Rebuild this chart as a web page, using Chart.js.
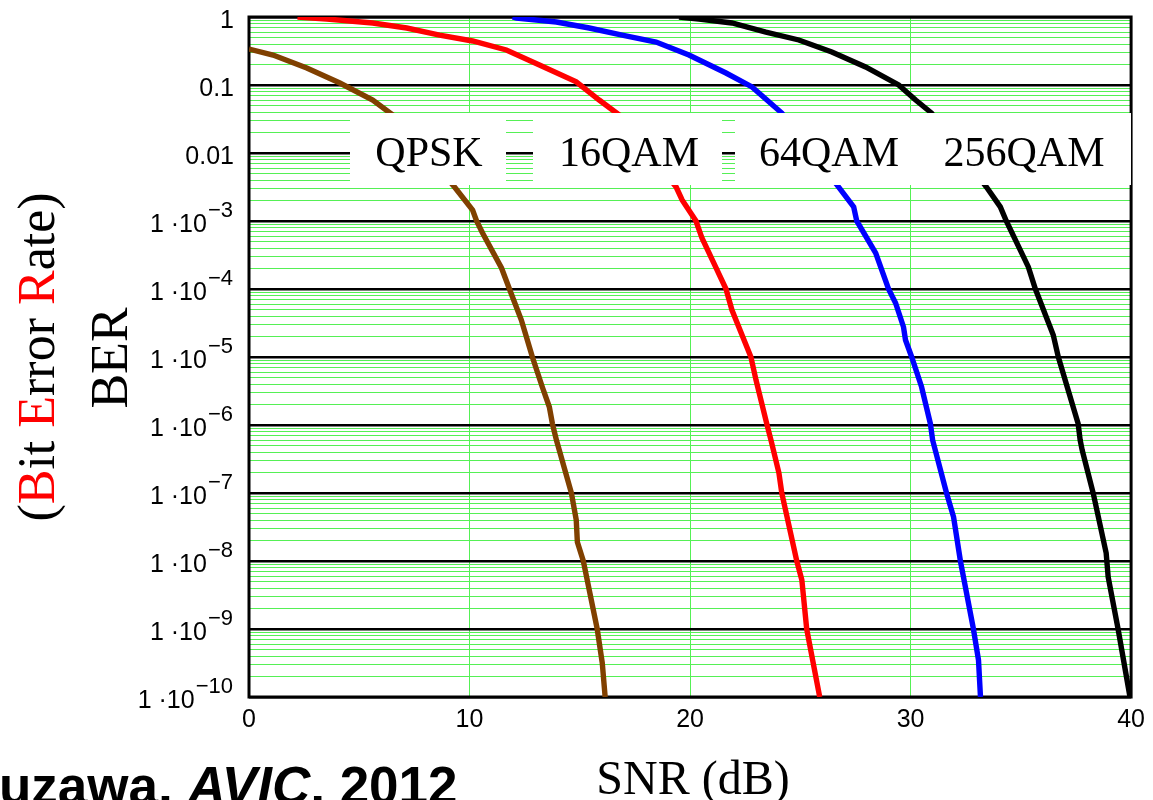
<!DOCTYPE html>
<html>
<head>
<meta charset="utf-8">
<script src="https://cdn.jsdelivr.net/npm/chart.js@4.4.1/dist/chart.umd.min.js"></script>
<style>
html,body{margin:0;padding:0;background:#fff;overflow:hidden;}
canvas{display:block;}
</style>
</head>
<body>
<canvas id="c" width="1153" height="800"></canvas>
<script>
// ---- data ----
const seriesNames = ["QPSK", "16QAM", "64QAM", "256QAM"];
const xTicks = [0, 10, 20, 30, 40];
const yDecades = [0, -1, -2, -3, -4, -5, -6, -7, -8, -9, -10];

const qpskSnr = [0, 1.09, 2.62, 4.12, 5.61, 6.52, 9.32, 10.14, 10.32, 10.59, 11.45, 11.81, 12.35, 12.58, 12.85, 13.30, 13.62, 13.76, 13.94, 14.62, 14.84, 14.89, 15.16, 15.79, 16.02, 16.15];
const qpskBer = [0.338, 0.276, 0.178, 0.107, 0.0601, 0.0362, 3.16e-3, 1.45e-3, 1.0e-3, 6.67e-4, 2.04e-4, 1.0e-4, 3.5e-5, 1.97e-5, 1.0e-5, 3.62e-6, 1.84e-6, 1.04e-6, 6.0e-7, 1.0e-7, 4.0e-8, 1.9e-8, 1.0e-8, 1.0e-9, 3.16e-10, 1.0e-10];

const qam16Snr = [2.2, 3.53, 5.61, 7.15, 8.64, 10.14, 11.67, 13.17, 14.84, 15.88, 16.79, 19.37, 19.64, 20.27, 20.54, 21.18, 21.63, 21.90, 22.76, 22.99, 23.48, 23.67, 24.03, 24.16, 24.84, 25.07, 25.29, 25.88];
const qam16Ber = [1.0, 0.935, 0.816, 0.689, 0.543, 0.444, 0.327, 0.197, 0.111, 0.0601, 0.0362, 3.16e-3, 2.04e-3, 1.0e-3, 5.62e-4, 2.04e-4, 1.0e-4, 4.91e-5, 1.0e-5, 4.59e-6, 1.04e-6, 6.0e-7, 1.97e-7, 1.0e-7, 1.0e-8, 5.26e-9, 1.0e-9, 1.0e-10];

const qam64Snr = [11.95, 12.13, 13.94, 15.43, 16.92, 18.46, 19.95, 21.63, 22.81, 24.16, 26.74, 27.42, 27.56, 28.42, 29.00, 29.32, 29.68, 29.77, 30.05, 30.50, 30.90, 31.00, 31.63, 31.95, 32.26, 32.85, 33.08, 33.17];
const qam64Ber = [1.0, 0.967, 0.844, 0.689, 0.543, 0.429, 0.276, 0.150, 0.0935, 0.0387, 3.16e-3, 1.61e-3, 1.0e-3, 3.38e-4, 1.0e-4, 6.22e-5, 2.76e-5, 1.78e-5, 1.0e-5, 3.62e-6, 1.04e-6, 6.0e-7, 1.0e-7, 4.44e-8, 1.0e-8, 1.0e-9, 3.5e-10, 1.0e-10];

const qam256Snr = [19.5, 20.41, 21.90, 23.44, 24.93, 26.43, 27.96, 29.46, 30.23, 30.95, 33.44, 34.07, 34.34, 35.34, 35.66, 36.47, 36.70, 37.60, 37.69, 37.78, 38.28, 38.87, 38.96, 39.41, 39.95];
const qam256Ber = [1.0, 0.935, 0.816, 0.601, 0.459, 0.306, 0.184, 0.1, 0.0601, 0.0387, 3.16e-3, 1.61e-3, 1.0e-3, 2.11e-4, 1.0e-4, 2.11e-5, 1.0e-5, 1.04e-6, 6.0e-7, 4.29e-7, 1.0e-7, 1.31e-8, 5.82e-9, 1.0e-9, 1.0e-10];

const seriesColors = ["#804000", "#ff0000", "#0000ff", "#000000"];

// ---- build ----
const toPts = (xs, ys) => xs.map((x, i) => ({x: x, y: ys[i]}));
const allX = [qpskSnr, qam16Snr, qam64Snr, qam256Snr];
const allY = [qpskBer, qam16Ber, qam64Ber, qam256Ber];
const datasets = seriesNames.map((n, i) => ({
  label: n,
  data: toPts(allX[i], allY[i]),
  borderColor: seriesColors[i],
  borderWidth: 5.4,
  pointRadius: 0,
  tension: 0,
  fill: false
}));

const GREEN = 'rgb(85,240,85)';
const isMajor = v => Math.abs(Math.log10(v) - Math.round(Math.log10(v))) < 1e-6;

const decor = {
  id: 'decor',
  beforeDatasetsDraw(chart) {
    const {ctx, chartArea: a} = chart;
    ctx.save();
    ctx.strokeStyle = '#000';
    ctx.lineWidth = 3;
    ctx.strokeRect(a.left, a.top, a.right - a.left, a.bottom - a.top);
    ctx.restore();
  },
  afterDatasetsDraw(chart) {
    const {ctx} = chart;
    const ys = chart.scales.y;
    ctx.save();
    // legend boxes (covering the plot)
    const boxTop = ys.getPixelForValue(0.01) - 40;
    const boxH = 72;
    const boxes = [[350, 506], [533, 722], [735, 1131]];
    ctx.fillStyle = '#fff';
    boxes.forEach(b => ctx.fillRect(b[0], boxTop, b[1] - b[0], boxH));
    const centers = [429, 629, 829, 1024];
    ctx.fillStyle = '#000';
    ctx.font = '42px "Liberation Serif", "Times New Roman", serif';
    ctx.textAlign = 'center';
    ctx.textBaseline = 'alphabetic';
    chart.data.datasets.forEach((d, i) => ctx.fillText(d.label, centers[i], ys.getPixelForValue(0.01) + 13));
    ctx.restore();
  },
  afterDraw(chart) {
    const {ctx} = chart;
    const ys = chart.scales.y;
    ctx.save();
    // y tick labels
    const right = 233;
    ctx.fillStyle = '#000';
    ctx.textBaseline = 'alphabetic';
    yDecades.forEach(e => {
      const y = ys.getPixelForValue(Math.pow(10, e)) + 11;
      const baseFont = '25px "Liberation Sans", Arial, sans-serif';
      const supFont = '22px "Liberation Sans", Arial, sans-serif';
      if (e >= -2) {
        const txt = e === 0 ? '1' : (e === -1 ? '0.1' : '0.01');
        ctx.font = baseFont; ctx.textAlign = 'right';
        ctx.fillText(txt, right + 1, y);
      } else {
        ctx.font = supFont;
        const sup = '\u2212' + (-e);
        const sw = ctx.measureText(sup).width;
        ctx.textAlign = 'right';
        ctx.fillText(sup, right, y - 15);
        ctx.font = baseFont;
        ctx.fillText('1 \u00B710', right - sw - 1, y);
      }
    });
    // y title
    const serif = '"Liberation Serif", "Times New Roman", serif';
    ctx.font = '52px ' + serif;
    ctx.save();
    ctx.translate(54, 357);
    ctx.rotate(-Math.PI / 2);
    const parts = [['(', '#000'], ['B', '#f00'], ['it ', '#000'], ['E', '#f00'], ['rror ', '#000'], ['R', '#f00'], ['ate)', '#000']];
    const total = parts.reduce((s, p) => s + ctx.measureText(p[0]).width, 0);
    let x0 = -total / 2;
    ctx.textAlign = 'left';
    parts.forEach(p => { ctx.fillStyle = p[1]; ctx.fillText(p[0], x0, 0); x0 += ctx.measureText(p[0]).width; });
    ctx.restore();
    ctx.save();
    ctx.translate(127, 358);
    ctx.rotate(-Math.PI / 2);
    ctx.fillStyle = '#000';
    ctx.textAlign = 'center';
    ctx.fillText('BER', 0, 0);
    ctx.restore();
    // x title
    ctx.font = '48px ' + serif;
    ctx.fillStyle = '#000';
    ctx.textAlign = 'center';
    ctx.fillText('SNR (dB)', 693, 794);
    // citation fragment
    ctx.textAlign = 'left';
    let cx = -1;
    const cy = 804;
    const segs = [['uzawa, ', 'bold'], ['AVIC', 'italic bold'], [', 2012', 'bold']];
    segs.forEach(s => {
      ctx.font = s[1] + ' 53px "Liberation Sans", Arial, sans-serif';
      ctx.fillText(s[0], cx, cy);
      cx += ctx.measureText(s[0]).width;
    });
    ctx.restore();
  }
};

new Chart(document.getElementById('c').getContext('2d'), {
  type: 'line',
  data: {datasets: datasets},
  options: {
    responsive: false,
    animation: false,
    events: [],
    layout: {padding: {top: 17, right: 20, left: 0, bottom: 0}},
    plugins: {legend: {display: false}, tooltip: {enabled: false}},
    scales: {
      x: {
        type: 'linear', min: 0, max: 40,
        afterBuildTicks: s => { s.ticks = xTicks.map(v => ({value: v})); },
        ticks: {color: '#000', padding: 8, maxRotation: 0, autoSkip: false,
          font: {family: '"Liberation Sans", Arial, sans-serif', size: 25}},
        grid: {drawTicks: false, lineWidth: 1,
          color: c => (c.tick && (c.tick.value === 0 || c.tick.value === 40)) ? 'rgba(0,0,0,0)' : GREEN},
        border: {display: false},
        afterFit: s => { s.height = 103; }
      },
      y: {
        type: 'logarithmic', min: 1e-10, max: 1,
        afterBuildTicks: s => {
          const t = [];
          yDecades.slice().reverse().forEach(e => {
            for (let m = 1; m <= 9; m++) {
              const v = m * Math.pow(10, e);
              if (v <= 1.0000001) t.push({value: v});
            }
          });
          s.ticks = t;
        },
        ticks: {display: false},
        grid: {drawTicks: false,
          color: c => (c.tick && isMajor(c.tick.value)) ? '#000' : GREEN,
          lineWidth: c => (c.tick && isMajor(c.tick.value)) ? 2.5 : 1},
        border: {display: false},
        afterFit: s => { s.height; s.width = 249; }
      }
    }
  },
  plugins: [decor]
});
</script>
</body>
</html>
